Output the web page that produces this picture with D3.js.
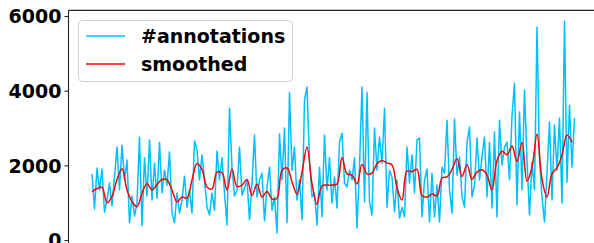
<!DOCTYPE html>
<html>
<head>
<meta charset="utf-8">
<script src="https://cdn.jsdelivr.net/npm/d3@7"></script>
<style>
  body { margin: 0; background: #fff; }
  svg { display: block; }
  .tick text { font-family: "DejaVu Sans", sans-serif; font-weight: bold; font-size: 19px; fill: #000; }
  .legend text { font-family: "DejaVu Sans", sans-serif; font-weight: bold; font-size: 19px; }
</style>
</head>
<body>
<div id="chart"></div>
<script>
// raw counts, one value per step
var annotations = [
  1770, 830, 1930, 1340, 1900, 750, 1070, 1530, 910, 1690,
  2490, 1340, 2540, 1610, 2140, 460, 1180, 640, 990, 2760,
  380, 2200, 1180, 2680, 1070, 2060, 1120, 2620, 1260, 1870,
  1470, 2360, 720, 460, 1260, 720, 1070, 1710, 880, 1340,
  720, 2650, 2410, 1610, 2280, 1610, 880, 670, 1260, 800,
  2380, 1610, 2200, 1260, 400, 3530, 1950, 1180, 1340, 2490,
  1200, 1390, 1610, 540, 1530, 2810, 1150, 1610, 1790, 510,
  1420, 1950, 800, 1150, 190, 2840, 1610, 3000, 460, 3960,
  1870, 2490, 1070, 1610, 540, 3750, 4100, 2140, 1150, 1260,
  400, 1950, 620, 2810, 1340, 2200, 990, 1690, 860, 2620,
  2860, 1530, 1420, 1870, 1610, 2200, 320, 1950, 4100, 1020,
  3960, 1020, 670, 3000, 1870, 2760, 2060, 3530, 880, 1870,
  1690, 750, 1610, 590, 880, 620, 2490, 1530, 2280, 1260,
  2680, 2730, 620, 1610, 1900, 480, 1790, 620, 1470, 480,
  1950, 1790, 3210, 1340, 720, 3240, 1740, 2220, 1150, 880,
  2600, 3030, 1150, 1470, 2730, 1610, 2220, 2760, 1150, 2620,
  860, 2890, 620, 3210, 2010, 2490, 2620, 1610, 3320, 4200,
  940, 3430, 1340, 4020, 2140, 670, 2090, 1340, 5700, 2140,
  1150, 480, 1790, 3160, 1070, 3080, 1870, 3270, 990, 5860,
  1550, 3610, 1950, 3270
];

// smoothed curve, one value every SMOOTH_STEP raw steps
var SMOOTH_STEP = 2;
var smoothed = [
  1290, 1380, 1410, 1000, 1170, 1620, 1910, 1340, 1030, 890,
  1250, 1510, 1340, 1490, 1620, 1610, 1340, 1020, 1150, 1120,
  1610, 2050, 1890, 1420, 1370, 1820, 1800, 1340, 1900, 1430,
  1470, 1620, 1190, 1500, 1150, 1300, 1100, 1120, 1870, 1930,
  1560, 1230, 1820, 2490, 1510, 960, 1450, 1470, 1470, 1500,
  2210, 1770, 1740, 1500, 2020, 1770, 1790, 2040, 2130, 2060,
  2010, 1390, 1070, 1850, 1830, 1890, 1190, 1150, 1230, 1180,
  1660, 1690, 1890, 2180, 1700, 2020, 1630, 1820, 1880, 1740,
  1340, 2130, 2380, 2280, 2520, 2100, 2610, 1580, 1950, 2840,
  1630, 1150, 1780, 1930, 2280, 2810, 2610
];

var yTicks = [0, 2000, 4000, 6000];
var seriesNames = ["#annotations", "smoothed"];
var seriesColors = ["#00bfff", "#ff0000"];

var width = 594, height = 243;
var svg = d3.select("#chart").append("svg")
  .attr("width", width)
  .attr("height", height);

var x = d3.scaleLinear()
  .domain([0, annotations.length - 1])
  .range([92, 574.5]);

var y = d3.scaleLinear()
  .domain([0, 6000])
  .range([240, 16]);

var axLeft = 68.5;
var axTop = y(6150);

// spines (right and bottom fall outside the picture)
svg.append("line")
  .attr("x1", axLeft).attr("x2", width + 10)
  .attr("y1", axTop).attr("y2", axTop)
  .attr("stroke", "#222").attr("stroke-width", 1.1);
svg.append("line")
  .attr("x1", axLeft).attr("x2", axLeft)
  .attr("y1", axTop).attr("y2", height + 10)
  .attr("stroke", "#222").attr("stroke-width", 1.1);

var yAxis = svg.append("g")
  .attr("transform", "translate(" + axLeft + ",0)")
  .call(d3.axisLeft(y).tickValues(yTicks).tickSize(4).tickPadding(3).tickFormat(d3.format("d")));
yAxis.select(".domain").remove();
yAxis.selectAll(".tick line").attr("stroke", "#222").attr("stroke-width", 1.1);
yAxis.selectAll(".tick text").attr("dy", "0.36em");

var rawLine = d3.line()
  .x(function(d, i) { return x(i); })
  .y(function(d) { return y(d); });

var smoothLine = d3.line()
  .x(function(d, i) { return x(i * SMOOTH_STEP); })
  .y(function(d) { return y(d); })
  .curve(d3.curveCatmullRom);

svg.append("path")
  .datum(annotations)
  .attr("d", rawLine)
  .attr("fill", "none")
  .attr("stroke", seriesColors[0])
  .attr("stroke-width", 1.5)
  .attr("stroke-linejoin", "round");

svg.append("path")
  .datum(smoothed)
  .attr("d", smoothLine)
  .attr("fill", "none")
  .attr("stroke", seriesColors[1])
  .attr("stroke-width", 1.5);

// legend
var legend = svg.append("g").attr("class", "legend");
legend.append("rect")
  .attr("x", 78.5).attr("y", 20.5)
  .attr("width", 214).attr("height", 61)
  .attr("rx", 4)
  .attr("fill", "#fff").attr("fill-opacity", 0.8)
  .attr("stroke", "#d0d0d0");

var items = legend.selectAll("g.item")
  .data(seriesNames)
  .enter().append("g")
  .attr("class", "item")
  .attr("transform", function(d, i) { return "translate(0," + (36 + i * 28) + ")"; });

items.append("line")
  .attr("x1", 86).attr("x2", 125)
  .attr("stroke", function(d, i) { return seriesColors[i]; })
  .attr("stroke-width", 1.5);

items.append("text")
  .attr("x", 141)
  .attr("dy", "0.36em")
  .text(function(d) { return d; });
</script>
</body>
</html>
